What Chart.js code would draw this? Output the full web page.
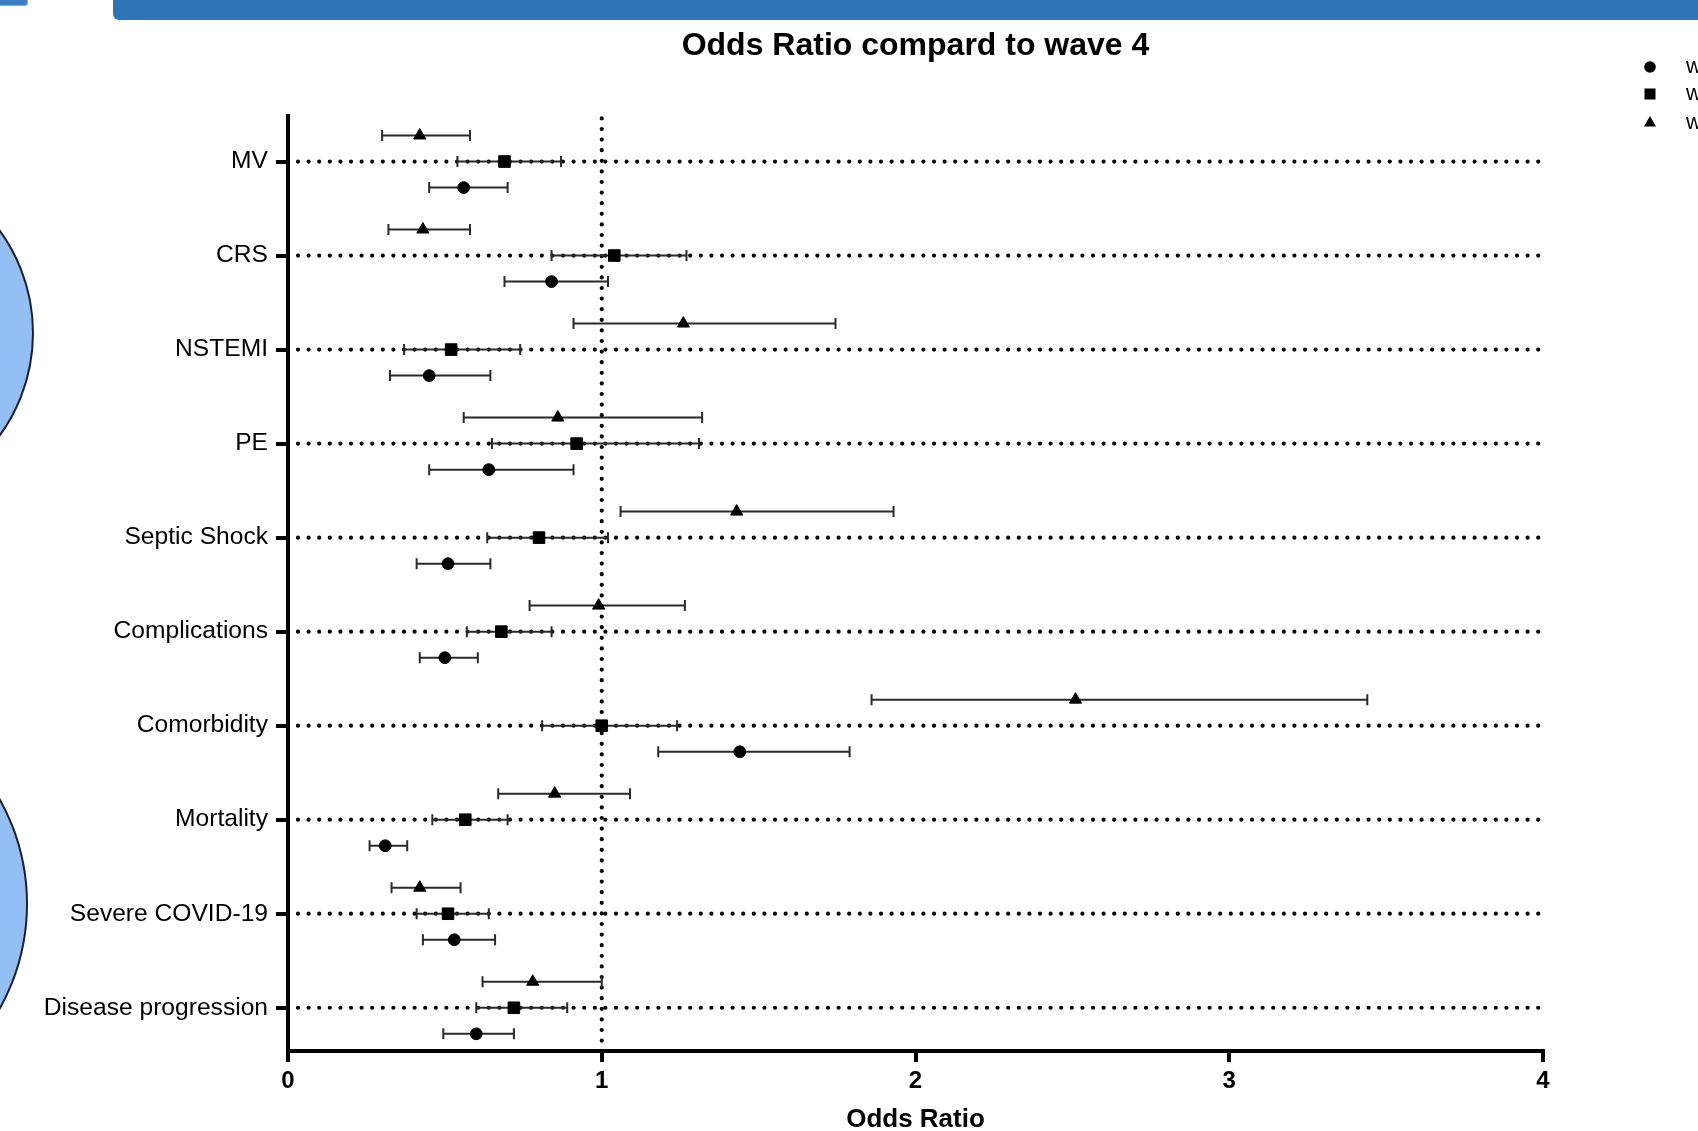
<!DOCTYPE html>
<html>
<head>
<meta charset="utf-8">
<script src="https://cdn.jsdelivr.net/npm/chart.js@4.4.1/dist/chart.umd.min.js"></script>
<style>
html,body{margin:0;padding:0;background:#fff;overflow:hidden;width:1698px;height:1131px;}
#wrap{position:relative;width:1698px;height:1131px;overflow:hidden;}
canvas{position:absolute;left:0;top:0;}
.deco{position:absolute;pointer-events:none;box-sizing:border-box;}
</style>
</head>
<body>
<div id="wrap">
<canvas id="c" width="1698" height="1131"></canvas>
<div class="deco" style="left:113px;top:0;width:1585px;height:20px;background:#2E75B6;border-bottom-left-radius:6px;"></div>
<div class="deco" style="left:-6px;top:-6px;width:34px;height:12px;background:#3B7FC4;border:1px solid #7DB0E0;border-radius:3px;"></div>
<div class="deco" style="left:-316px;top:158px;width:350px;height:350px;border-radius:50%;background:#94BFF4;border:2px solid #1b1f2a;"></div>
<div class="deco" style="left:-402px;top:689px;width:430px;height:430px;border-radius:50%;background:#94BFF4;border:2px solid #1b1f2a;"></div>
</div>
<script>
// ---------- data ----------
const categories = ['MV', 'CRS', 'NSTEMI', 'PE', 'Septic Shock', 'Complications',
  'Comorbidity', 'Mortality', 'Severe COVID-19', 'Disease progression'];
const xTickValues = [0, 1, 2, 3, 4];
const referenceOR = 1;
const seriesNames = ['wave 1', 'wave 2', 'wave 3'];

// wave 1 (circle)
const wave1OR   = [0.56, 0.84, 0.45, 0.64, 0.51, 0.50, 1.44, 0.31, 0.53, 0.60];
const wave1Low  = [0.45, 0.69, 0.325, 0.45, 0.41, 0.42, 1.18, 0.26, 0.43, 0.495];
const wave1High = [0.70, 1.02, 0.645, 0.91, 0.645, 0.605, 1.79, 0.38, 0.66, 0.72];
// wave 2 (square)
const wave2OR   = [0.69, 1.04, 0.52, 0.92, 0.80, 0.68, 1.00, 0.565, 0.51, 0.72];
const wave2Low  = [0.54, 0.84, 0.37, 0.65, 0.635, 0.57, 0.81, 0.46, 0.41, 0.60];
const wave2High = [0.87, 1.27, 0.74, 1.31, 1.02, 0.84, 1.24, 0.70, 0.64, 0.89];
// wave 3 (triangle)
const wave3OR   = [0.42, 0.43, 1.26, 0.86, 1.43, 0.99, 2.51, 0.85, 0.42, 0.78];
const wave3Low  = [0.30, 0.32, 0.91, 0.56, 1.06, 0.77, 1.86, 0.67, 0.33, 0.62];
const wave3High = [0.58, 0.58, 1.745, 1.32, 1.93, 1.265, 3.44, 1.09, 0.55, 1.00];

// ---------- styling / layout ----------
const FONT = '"Liberation Sans", Arial, Helvetica, sans-serif';
const rowOffset = {w1: 0.277, w2: 0, w3: -0.277};

function makeSet(label, ors, lows, highs, off, style, radius) {
  return {
    label: label,
    data: ors.map((v, i) => ({x: v, y: i + off})),
    errLow: lows,
    errHigh: highs,
    pointStyle: style,
    pointRadius: radius,
    pointHoverRadius: radius,
    backgroundColor: '#000',
    borderColor: '#000',
    pointBorderWidth: 1,
    showLine: false
  };
}

const datasets = [
  makeSet(seriesNames[2], wave3OR, wave3Low, wave3High, rowOffset.w3, 'triangle', 7),
  makeSet(seriesNames[1], wave2OR, wave2Low, wave2High, rowOffset.w2, 'rect', 8.2),
  makeSet(seriesNames[0], wave1OR, wave1Low, wave1High, rowOffset.w1, 'circle', 5.9)
];

const dottedGrid = {
  id: 'dottedGrid',
  beforeDatasetsDraw(chart) {
    const {ctx, chartArea: a, scales: {x, y}} = chart;
    ctx.save();
    ctx.strokeStyle = '#000';
    ctx.lineWidth = 4.2;
    ctx.lineCap = 'round';
    ctx.setLineDash([0, 10.6]);
    categories.forEach((c, i) => {
      const py = y.getPixelForValue(i);
      ctx.beginPath();
      ctx.moveTo(a.left + 10, py);
      ctx.lineTo(a.right - 4, py);
      ctx.stroke();
    });
    const px = x.getPixelForValue(referenceOR);
    ctx.beginPath();
    ctx.moveTo(px, a.top + 2);
    ctx.lineTo(px, a.bottom - 4);
    ctx.stroke();
    ctx.restore();
  }
};

const errorBars = {
  id: 'errorBars',
  beforeDatasetsDraw(chart) {
    const {ctx, scales: {x, y}} = chart;
    ctx.save();
    ctx.strokeStyle = '#2a2a2a';
    ctx.lineWidth = 2;
    ctx.lineCap = 'butt';
    ctx.setLineDash([]);
    chart.data.datasets.forEach(ds => {
      ds.data.forEach((p, i) => {
        const py = y.getPixelForValue(p.y);
        const x1 = x.getPixelForValue(ds.errLow[i]);
        const x2 = x.getPixelForValue(ds.errHigh[i]);
        ctx.beginPath();
        ctx.moveTo(x1, py); ctx.lineTo(x2, py);
        ctx.moveTo(x1, py - 5.5); ctx.lineTo(x1, py + 5.5);
        ctx.moveTo(x2, py - 5.5); ctx.lineTo(x2, py + 5.5);
        ctx.stroke();
      });
    });
    ctx.restore();
  }
};

const sideLegend = {
  id: 'sideLegend',
  afterDraw(chart) {
    const ctx = chart.ctx;
    const items = [
      {name: seriesNames[0], style: 'circle', r: 5.8, y: 67},
      {name: seriesNames[1], style: 'rect', r: 7.8, y: 94},
      {name: seriesNames[2], style: 'triangle', r: 7, y: 123}
    ];
    ctx.save();
    ctx.fillStyle = '#000';
    ctx.strokeStyle = '#000';
    ctx.font = '22px ' + FONT;
    ctx.textBaseline = 'middle';
    ctx.textAlign = 'left';
    items.forEach(it => {
      Chart.helpers.drawPoint(ctx, {pointStyle: it.style, radius: it.r, rotation: 0, borderWidth: 0}, 1650, it.y);
      ctx.fillStyle = '#000';
      ctx.fillText(it.name, 1686, it.y);
    });
    ctx.restore();
  }
};

new Chart(document.getElementById('c'), {
  type: 'scatter',
  data: {datasets: datasets},
  plugins: [dottedGrid, errorBars, sideLegend],
  options: {
    responsive: false,
    animation: false,
    events: [],
    layout: {padding: {left: 0, right: 155, top: 0, bottom: 0}},
    plugins: {
      legend: {display: false},
      tooltip: {enabled: false},
      title: {
        display: true,
        text: 'Odds Ratio compard to wave 4',
        fullSize: false,
        color: '#000',
        font: {family: FONT, size: 32, weight: 'bold', lineHeight: 1.2},
        padding: {top: 27, bottom: 51}
      }
    },
    scales: {
      x: {
        type: 'linear',
        min: 0,
        max: 4,
        afterBuildTicks: s => { s.ticks = xTickValues.map(v => ({value: v})); },
        grid: {display: true, drawOnChartArea: false, drawTicks: true, tickLength: 11,
               tickWidth: 4, tickColor: '#000', color: '#000', lineWidth: 4},
        border: {display: true, color: '#000', width: 4},
        ticks: {color: '#000', font: {family: FONT, size: 24, weight: 'bold'}, padding: 5,
                maxRotation: 0, autoSkip: false},
        title: {display: true, text: 'Odds Ratio', color: '#000',
                font: {family: FONT, size: 26, weight: 'bold', lineHeight: 1},
                padding: {top: 0, bottom: -2}},
        afterFit: s => { s.height = 80; }
      },
      y: {
        type: 'linear',
        min: -0.48,
        max: 9.46,
        reverse: true,
        afterBuildTicks: s => { s.ticks = categories.map((c, i) => ({value: i})); },
        ticks: {callback: v => categories[v], color: '#000', font: {family: FONT, size: 24.6},
                padding: 8, autoSkip: false},
        grid: {display: true, drawOnChartArea: false, drawTicks: true, tickLength: 12,
               tickWidth: 4, tickColor: '#000', color: '#000', lineWidth: 4},
        border: {display: true, color: '#000', width: 4},
        afterFit: s => { s.width = 288; }
      }
    }
  }
});
</script>
</body>
</html>
